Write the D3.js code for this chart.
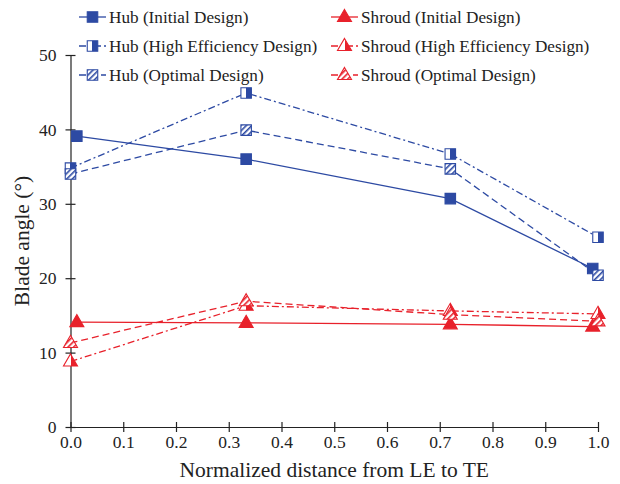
<!DOCTYPE html>
<html>
<head>
<meta charset="utf-8">
<script src="https://cdn.jsdelivr.net/npm/d3@7"></script>
<style>
  body { margin: 0; background: #fff; }
  text { font-family: "Liberation Serif", "Times New Roman", serif; fill: #222; }
</style>
</head>
<body>
<svg id="chart"></svg>
<script>
// Chart size and plot margins.
const width = 620;
const height = 484;
const margin = { top: 55, bottom: 57, left: 70.5, right: 22 };

const blue = "#2d4aa3";
const red = "#e8212b";

// Data.
const xInitial = [0.012, 0.333, 0.72, 0.99];
const xDesign = [0.0, 0.333, 0.72, 1.0];

const hubInitial = [39.1, 36.0, 30.7, 21.3];
const hubHighEff = [34.8, 44.9, 36.7, 25.5];
const hubOptimal = [34.0, 39.9, 34.7, 20.4];

const shroudInitial = [14.1, 14.0, 13.8, 13.5];
const shroudHighEff = [8.8, 16.3, 15.6, 15.2];
const shroudOptimal = [11.3, 16.9, 15.1, 14.2];

const xTicks = [0, 0.1, 0.2, 0.3, 0.4, 0.5, 0.6, 0.7, 0.8, 0.9, 1.0];
const yTicks = [0, 10, 20, 30, 40, 50];

const series = [
  { name: "Hub (Initial Design)", x: xInitial, y: hubInitial, color: blue, dash: null, shape: "square", fill: "solid" },
  { name: "Hub (High Efficiency Design)", x: xDesign, y: hubHighEff, color: blue, dash: "7,3,2,3", shape: "square", fill: "half" },
  { name: "Hub (Optimal Design)", x: xDesign, y: hubOptimal, color: blue, dash: "7,4", shape: "square", fill: "hatch" },
  { name: "Shroud (Initial Design)", x: xInitial, y: shroudInitial, color: red, dash: null, shape: "triangle", fill: "solid" },
  { name: "Shroud (High Efficiency Design)", x: xDesign, y: shroudHighEff, color: red, dash: "7,3,2,3", shape: "triangle", fill: "half" },
  { name: "Shroud (Optimal Design)", x: xDesign, y: shroudOptimal, color: red, dash: "7,4", shape: "triangle", fill: "hatch" }
];

const svg = d3.select("#chart").attr("width", width).attr("height", height);

function translate(x, y) {
  return "translate(" + String(x) + "," + String(y) + ")";
}

const xScale = d3.scaleLinear().domain([0, 1]).range([margin.left, width - margin.right]);
const yScale = d3.scaleLinear().domain([0, 50]).range([height - margin.bottom, margin.top]);

// Fill patterns for the open markers.
const defs = svg.append("defs");
[["blue", blue], ["red", red]].forEach(([key, c]) => {
  const grad = defs.append("linearGradient").attr("id", "half-" + key);
  grad.append("stop").attr("offset", "50%").attr("stop-color", "#fff");
  grad.append("stop").attr("offset", "50%").attr("stop-color", c);

  const pat = defs.append("pattern")
    .attr("id", "hatch-" + key)
    .attr("patternUnits", "userSpaceOnUse")
    .attr("width", 4).attr("height", 4)
    .attr("patternTransform", "rotate(45)");
  pat.append("rect").attr("width", 4).attr("height", 4).attr("fill", "#fff");
  pat.append("rect").attr("width", 1.6).attr("height", 4).attr("fill", c);
});

function fillFor(s) {
  const key = s.color === blue ? "blue" : "red";
  if (s.fill === "solid") return s.color;
  if (s.fill === "half") return "url(#half-" + key + ")";
  return "url(#hatch-" + key + ")";
}

function drawMarker(g, s, cx, cy) {
  const sym = s.shape === "square" ? d3.symbolSquare : d3.symbolTriangle;
  const size = s.shape === "square" ? 110 : 85;
  g.append("path")
    .attr("d", d3.symbol(sym, size)())
    .attr("transform", translate(cx, cy + (s.shape === "triangle" ? 0.5 : 0)))
    .attr("fill", fillFor(s))
    .attr("stroke", s.color)
    .attr("stroke-width", 1.1);
}

drawAxis();
drawSeries();
drawLegend();
drawTitles();

function drawAxis() {
  const xAxis = d3.axisBottom(xScale).tickValues(xTicks).tickFormat(d3.format(".1f")).tickSize(5).tickSizeOuter(0).tickPadding(4);
  const yAxis = d3.axisLeft(yScale).tickValues(yTicks).tickFormat(d3.format("d")).tickSize(5).tickSizeOuter(0).tickPadding(9);

  const gx = svg.append("g")
    .attr("transform", translate(0, yScale(0)))
    .call(xAxis);
  gx.selectAll(".tick line").attr("y1", -5).attr("y2", 5);

  const gy = svg.append("g")
    .attr("transform", translate(xScale(0), 0))
    .call(yAxis);
  gy.selectAll(".tick line").attr("x1", -5).attr("x2", 5);

  [gx, gy].forEach(g => {
    g.attr("font-family", "'Liberation Serif', serif");
    g.select(".domain").attr("stroke", "#222").attr("stroke-width", 1.2);
    g.selectAll(".tick line").attr("stroke", "#222").attr("stroke-width", 1.2);
    g.selectAll("text")
      .style("font-family", "'Liberation Serif', serif")
      .style("font-size", "17.5px")
      .attr("fill", "#222");
  });
}

function drawSeries() {
  const line = d3.line().x(d => xScale(d[0])).y(d => yScale(d[1]));
  const plot = svg.append("g").attr("id", "plot");

  series.forEach(s => {
    const pts = s.x.map((x, i) => [x, s.y[i]]);
    plot.append("path")
      .attr("d", line(pts))
      .attr("fill", "none")
      .attr("stroke", s.color)
      .attr("stroke-width", 1.3)
      .attr("stroke-dasharray", s.dash);
  });

  series.forEach(s => {
    const g = plot.append("g");
    s.x.forEach((x, i) => drawMarker(g, s, xScale(x), yScale(s.y[i])));
  });
}

function drawLegend() {
  const cols = [79, 331];
  const rows = [17, 46, 75];
  series.forEach((s, i) => {
    const col = Math.floor(i / 3);
    const row = i % 3;
    const g = svg.append("g").attr("transform", translate(cols[col], rows[row]));
    g.append("line")
      .attr("x1", 0).attr("x2", 27)
      .attr("y1", 0).attr("y2", 0)
      .attr("stroke", s.color)
      .attr("stroke-width", 1.3)
      .attr("stroke-dasharray", s.dash);
    drawMarker(g, s, 13.5, 0);
    g.append("text")
      .attr("x", 30)
      .attr("y", 0)
      .attr("dy", "0.35em")
      .style("font-size", "17.2px")
      .text(s.name);
  });
}

function drawTitles() {
  svg.append("text")
    .attr("x", (xScale(0) + xScale(1)) / 2)
    .attr("y", 477)
    .attr("text-anchor", "middle")
    .style("font-size", "21.5px")
    .text("Normalized distance from LE to TE");

  svg.append("g")
    .attr("transform", translate(21, (yScale(0) + yScale(50)) / 2))
    .append("text")
    .attr("transform", "rotate(-90)")
    .attr("text-anchor", "middle")
    .attr("dy", "0.35em")
    .style("font-size", "21.5px")
    .text("Blade angle (°)");
}
</script>
</body>
</html>
